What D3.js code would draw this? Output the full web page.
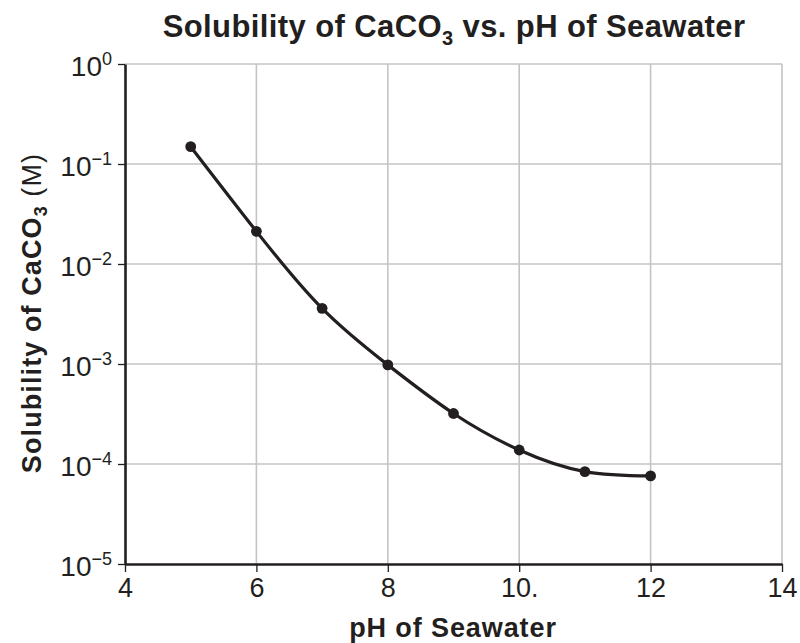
<!DOCTYPE html>
<html>
<head>
<meta charset="utf-8">
<script src="https://cdn.jsdelivr.net/npm/d3@7"></script>
<style>
  body { margin: 0; background: #fff; }
  svg { display: block; font-family: "Liberation Sans", Arial, Helvetica, sans-serif; }
</style>
</head>
<body>
<svg id="chart" width="800" height="643"></svg>
<script>
// Data
const pH = [5, 6, 7, 8, 9, 10, 11, 12];
const solubility = [0.149, 0.0212, 0.0036, 0.00098, 0.00032, 0.000138, 0.000084, 0.000076];
const xTickValues = [4, 6, 8, 10, 12, 14];
const xTickLabels = ["4", "6", "8", "10.", "12", "14"];
const yTickExponents = [0, -1, -2, -3, -4, -5];

const ink = "#231f20";
const svg = d3.select("#chart");
const pLeft = 125, pRight = 782, pTop = 64, pBottom = 564;

const x = d3.scaleLinear().domain([4, 14]).range([pLeft, pRight]);
const y = d3.scaleLog().domain([1e-5, 1]).range([pBottom, pTop]);

// gridlines
const grid = svg.append("g");
grid.selectAll("line.v").data(xTickValues.slice(1)).join("line")
  .attr("class", "v")
  .attr("x1", d => x(d)).attr("x2", d => x(d))
  .attr("y1", pTop).attr("y2", pBottom)
  .attr("stroke", "#c4c4c4").attr("stroke-width", 1.6);
grid.selectAll("line.h").data(yTickExponents.slice(0, -1)).join("line")
  .attr("class", "h")
  .attr("x1", pLeft).attr("x2", pRight)
  .attr("y1", d => y(Math.pow(10, d))).attr("y2", d => y(Math.pow(10, d)))
  .attr("stroke", "#c4c4c4").attr("stroke-width", 1.6);

// x axis
const xAxis = svg.append("g").attr("transform", `translate(0,${pBottom})`)
  .call(d3.axisBottom(x).tickValues(xTickValues)
    .tickFormat((d, i) => xTickLabels[i]).tickSize(8).tickSizeOuter(0).tickPadding(9));
xAxis.select(".domain").attr("stroke", ink).attr("stroke-width", 2.6);
xAxis.selectAll(".tick line").attr("stroke", ink).attr("stroke-width", 1.3);
xAxis.selectAll(".tick text").attr("fill", ink).attr("font-size", 27)
  .attr("dy", null).attr("y", 33).attr("font-family", "Liberation Sans, Arial, sans-serif");

// y axis
const yAxis = svg.append("g").attr("transform", `translate(${pLeft},0)`)
  .call(d3.axisLeft(y).tickValues(yTickExponents.map(e => Math.pow(10, e)))
    .tickFormat(() => "").tickSize(7).tickSizeOuter(0));
yAxis.select(".domain").attr("stroke", ink).attr("stroke-width", 2.6);
yAxis.selectAll(".tick line").attr("stroke", ink).attr("stroke-width", 1.3);
yAxis.selectAll(".tick text").each(function(d) {
  const t = d3.select(this);
  const e = Math.round(Math.log10(d));
  t.text(null).attr("x", -13).attr("dy", null).attr("y", 0)
    .attr("text-anchor", "end").attr("fill", ink)
    .attr("font-family", "Liberation Sans, Arial, sans-serif");
  t.append("tspan").attr("font-size", 28).attr("dy", 11).text("10");
  t.append("tspan").attr("font-size", 18).attr("dy", -11)
    .text(e === 0 ? "0" : "\u2212" + Math.abs(e));
});

// curve
const line = d3.line().x((d, i) => x(pH[i])).y(d => y(d)).curve(d3.curveNatural);
svg.append("path").datum(solubility).attr("d", line)
  .attr("fill", "none").attr("stroke", ink).attr("stroke-width", 3.2);
svg.selectAll("circle.pt").data(solubility).join("circle")
  .attr("class", "pt")
  .attr("cx", (d, i) => x(pH[i])).attr("cy", d => y(d)).attr("r", 5.4)
  .attr("fill", ink);

// title
const title = svg.append("text").attr("x", 454).attr("y", 37)
  .attr("text-anchor", "middle").attr("font-weight", "bold").attr("font-size", 31)
  .attr("letter-spacing", 0.4).attr("fill", ink);
title.append("tspan").text("Solubility of CaCO");
title.append("tspan").attr("font-size", 20).attr("dy", 8).text("3");
title.append("tspan").attr("dy", -8).text(" vs. pH of Seawater");

// x axis title
svg.append("text").attr("x", 453).attr("y", 637).attr("text-anchor", "middle")
  .attr("font-weight", "bold").attr("font-size", 27).attr("letter-spacing", 0.9)
  .attr("fill", ink)
  .text("pH of Seawater");

// y axis title
const yt = svg.append("text").attr("transform", "translate(41,313) rotate(-90)")
  .attr("text-anchor", "middle").attr("font-size", 27).attr("letter-spacing", 1.1)
  .attr("fill", ink);
yt.append("tspan").attr("font-weight", "bold").text("Solubility of CaCO");
yt.append("tspan").attr("font-weight", "bold").attr("font-size", 18).attr("dy", 6).text("3");
yt.append("tspan").attr("dy", -6).text(" (M)");
</script>
</body>
</html>
